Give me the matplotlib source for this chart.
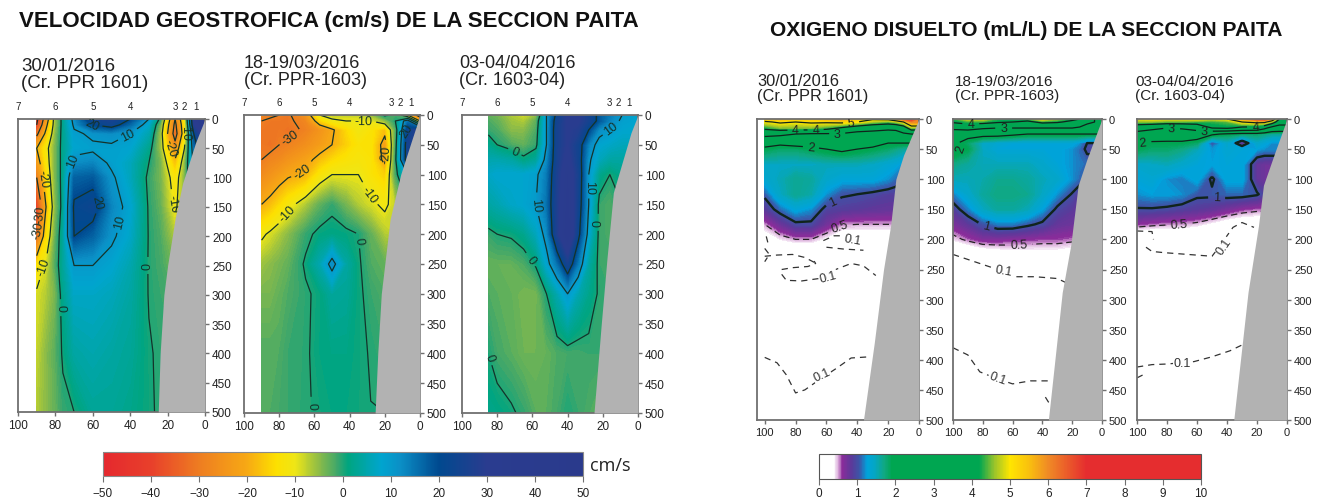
import numpy as np
import matplotlib
matplotlib.use('Agg')
import matplotlib.pyplot as plt
from matplotlib.colors import LinearSegmentedColormap, Normalize
from matplotlib.cm import ScalarMappable

plt.rcParams['font.family'] = ['Liberation Sans', 'DejaVu Sans']

W, H = 1323, 502

# velocity sections, rows = depth, columns = distance to coast
vel_depth = [0, 10, 25, 50, 75, 100, 150, 200, 250, 300, 400, 500]
vel1_x = [90, 85, 80, 76, 70, 60, 50, 40, 30, 24, 16, 11, 6, 0]
vel2_x = [90, 85, 80, 75, 65, 57, 50, 42, 35, 28, 20, 14, 7, 0]
vel3_x = [85, 80, 72, 65, 58, 52, 46, 40, 34, 28, 22, 16, 9, 0]

vel1 = [
    [-42, -25, -6, 2, 12, 24, 26, 20, 10, -1, -30, -12, 30, 45],
    [-40, -22, -6, 2, 11, 20, 23, 16, 7, -4, -32, -14, 28, 40],
    [-32, -18, -5, 2, 9, 11, 12, 10, 5, -6, -34, -15, 20, 35],
    [-20, -12, -4, 2, 8, 9, 9, 8, 2, -6, -26, -10, 15, 30],
    [-24, -13, -4, 2, 12, 13, 9, 6, 0, -4, -18, -6, 12, 20],
    [-30, -15, -4, 2, 17, 18, 11, 6, -1, -4, -13, -5, 10, 10],
    [-40, -20, -5, 2, 21, 23, 13, 8, -0.5, -3, -11, -6, 5, 5],
    [-32, -15, -3, 3, 20, 17, 11, 7, -0.3, -2, -7, -6, 0, 0],
    [-14, -9, -2, 3, 10, 10, 8, 5, -0.3, -1.5, -4, -4, 0, 0],
    [-9, -7, -4, 2, 7, 7, 6, 4, -0.2, -1, -2, -2, 0, 0],
    [-8, -5, -2.5, 0.5, 4, 5, 4, 3, 0.3, -0.5, -1, -1, 0, 0],
    [-7, -5, -3, -1, 0, 3, 3, 2, 0.5, -0.5, -1, -1, 0, 0],
]
vel2 = [
    [-28, -29, -30, -31, -25, -10, -8, -8, -8, -6, 1, -2, -20, -35],
    [-30, -31, -31, -31, -28, -16, -11, -10, -10, -10, -6, 0, 15, -20],
    [-31, -31, -31, -32, -29, -25, -21, -15, -11, -13, -18, -3, 22, 30],
    [-31, -32, -30, -29, -26, -23, -20, -16, -13, -13, -23, -2, 25, 30],
    [-30, -28, -27, -25, -22, -18, -15, -13, -12, -13, -22, -1, 25, 20],
    [-27, -25, -23, -21, -19, -13, -10, -10, -10, -13, -16, -2, 10, 10],
    [-20, -18, -15, -12, -7, -3, -1, -4, -7, -9, -11, -8, 0, 0],
    [-11, -9, -7, -5, -1, 1, 1.5, 1, 0, -3, -7, -8, 0, 0],
    [-6, -5, -4, -3, 0.5, 5, 12, 4, 0.5, -2, -3, 0, 0, 0],
    [-4, -4, -3, -2, -0.5, 0.8, 3.5, 3, 0.6, -1, -2, 0, 0, 0],
    [-2, -2, -2, -1, -0.4, 1, 1.5, 1.5, 0.6, -0.2, -1, 0, 0, 0],
    [-2, -2, -1.5, -1, -0.3, 0.4, 1, 1, 0.5, 0.05, 0, 0, 0, 0],
]
vel3 = [
    [-3, -4, -7, -9, -6, 10, 22, 30, 30, 25, 18, 14, 10, 8],
    [-2, -3, -6, -7, -3, 10, 24, 30, 30, 25, 18, 13, 9, 8],
    [-1, -2, -5, -5, -2, 10, 25, 30, 28, 20, 12, 10, 8, 8],
    [2, 0, -2, -3, -1, 10, 25, 30, 24, 13, 8, 7, 6, 6],
    [5, 5, 4, 1, 3, 12, 25, 32, 24, 11, 6, 4, 4, 4],
    [7, 8, 8, 8, 9, 14, 26, 35, 25, 10, 2, 0, 2, 2],
    [4, 5, 7, 8, 10, 15, 27, 36, 24, 10, -1, -2, 0, 0],
    [-1, 0, 0.5, 2, 6, 12, 27, 38, 22, 8, -1, -2, 0, 0],
    [-3, -3, -3, -2, 0.5, 8, 15, 25, 14, 4, -1, -1, 0, 0],
    [-2, -2.5, -3, -4, -4, 0, 5, 10, 5, 2, -0.5, -1, 0, 0],
    [0, -1.5, -2.5, -3.5, -3.5, -3, -2, -1.5, -1.5, -1, -1, -1, 0, 0],
    [2, 1.5, 0.5, -0.8, -2.5, -2.5, -1.5, 0, -1, -2, -3, -3, 0, 0],
]

# shelf profile of each velocity panel
vel1_bx = [0, 5, 8, 12, 16, 20, 22, 24, 25]
vel1_bd = [0, 40, 70, 110, 170, 250, 300, 400, 500]
vel2_bx = [0, 5, 11, 17, 20, 22, 24, 25.5]
vel2_bd = [0, 45, 100, 175, 250, 300, 400, 500]
vel3_bx = [0, 4, 9, 14, 17.6, 21, 25]
vel3_bd = [0, 30, 80, 130, 240, 355, 500]

station_x = [100, 80, 60, 40, 16, 11, 5]
station_names = ['7', '6', '5', '4', '3', '2', '1']

vel1_labels = [(62, 15), (42, 22), (72, 70), (60, 145), (45, 175), (30, 250), (78, 322),
               (85, 100), (90, 160), (88, 190), (84, 255), (20, 50), (21, 145), (11, 20)]
vel2_labels = [(72, 45), (65, 105), (74, 170), (32, 20), (25, 125), (20, 65), (36, 210), (61, 487), (8, 25)]
vel3_labels = [(70, 62), (58, 150), (29, 120), (25, 180), (60, 240), (75, 395), (17, 15)]

# oxygen sections
ox_depth = [0, 5, 15, 25, 40, 50, 75, 100, 125, 150, 175, 200, 225, 500]
ox_x = [100, 90, 80, 70, 60, 50, 40, 30, 20, 15, 10, 5, 0]

ox1 = [
    [5.4, 5.5, 5.3, 5.3, 5.6, 5.8, 5.4, 5.1, 5.2, 5.6, 6.5, 7.0, 6.0],
    [4.9, 5.1, 5.0, 5.1, 5.1, 5.2, 5.0, 4.6, 4.4, 4.6, 5.0, 6.0, 6.0],
    [4.2, 4.5, 4.5, 4.5, 4.3, 3.9, 3.5, 3.3, 3.2, 3.2, 3.5, 4.5, 4.5],
    [3.3, 3.2, 3.0, 2.9, 2.9, 2.9, 2.7, 2.7, 2.6, 2.7, 2.9, 3.0, 3.0],
    [2.2, 2.1, 2.2, 2.2, 2.3, 2.3, 2.4, 2.2, 2.0, 2.0, 2.0, 2.0, 2.0],
    [1.9, 1.8, 1.8, 1.9, 2.0, 2.1, 2.0, 1.9, 1.8, 1.7, 1.6, 1.6, 1.6],
    [1.45, 1.45, 1.45, 1.45, 1.5, 1.5, 1.5, 1.45, 1.35, 1.3, 1.2, 1.2, 1.2],
    [1.35, 1.5, 1.65, 1.6, 1.4, 1.3, 1.3, 1.3, 1.2, 1.1, 1.0, 1.0, 1.0],
    [1.05, 1.45, 1.65, 1.55, 1.2, 1.03, 1.0, 0.95, 0.9, 0.9, 0.9, 0.9, 0.9],
    [0.85, 1.1, 1.3, 1.2, 0.92, 0.88, 0.85, 0.82, 0.8, 0.8, 0.8, 0.8, 0.8],
    [0.5, 0.75, 0.95, 0.95, 0.72, 0.52, 0.5, 0.5, 0.5, 0.5, 0.5, 0.5, 0.5],
    [0.25, 0.4, 0.5, 0.5, 0.35, 0.2, 0.2, 0.2, 0.2, 0.2, 0.2, 0.2, 0.2],
    [0.05, 0.05, 0.05, 0.05, 0.05, 0.05, 0.05, 0.05, 0.05, 0.05, 0.05, 0.05, 0.05],
    [0.05, 0.05, 0.05, 0.05, 0.05, 0.05, 0.05, 0.05, 0.05, 0.05, 0.05, 0.05, 0.05],
]
ox2 = [
    [4.3, 4.8, 4.8, 4.3, 4.2, 4.4, 5.0, 4.6, 4.2, 4.0, 3.5, 3.0, 3.0],
    [4.1, 4.3, 4.3, 4.1, 4.0, 3.8, 4.2, 4.1, 3.8, 3.5, 3.1, 3.0, 3.0],
    [3.2, 3.4, 3.1, 3.0, 3.0, 3.0, 3.0, 3.0, 3.0, 2.9, 2.8, 2.8, 2.8],
    [2.4, 2.2, 2.2, 2.2, 2.1, 2.0, 2.0, 2.0, 2.0, 2.0, 2.0, 2.0, 2.0],
    [2.1, 1.8, 1.45, 1.35, 1.3, 1.3, 1.3, 1.3, 1.3, 1.2, 1.0, 1.0, 1.0],
    [2.1, 1.9, 1.45, 1.3, 1.3, 1.3, 1.3, 1.3, 1.2, 1.1, 0.95, 0.95, 0.95],
    [1.7, 1.6, 1.5, 1.5, 1.5, 1.5, 1.4, 1.3, 1.2, 1.15, 1.1, 1.1, 1.1],
    [1.5, 1.5, 1.55, 1.65, 1.65, 1.6, 1.5, 1.4, 1.2, 1.1, 1.0, 1.0, 1.0],
    [1.15, 1.4, 1.6, 1.7, 1.7, 1.65, 1.45, 1.2, 0.98, 0.85, 0.8, 0.8, 0.8],
    [0.88, 1.15, 1.45, 1.6, 1.6, 1.5, 1.25, 0.95, 0.85, 0.8, 0.8, 0.8, 0.8],
    [0.68, 0.82, 1.02, 1.15, 1.15, 1.05, 0.95, 0.8, 0.75, 0.7, 0.7, 0.7, 0.7],
    [0.42, 0.55, 0.65, 0.65, 0.62, 0.6, 0.58, 0.58, 0.55, 0.5, 0.5, 0.5, 0.5],
    [0.05, 0.1, 0.2, 0.25, 0.3, 0.3, 0.3, 0.3, 0.25, 0.2, 0.2, 0.2, 0.2],
    [0.05, 0.05, 0.05, 0.05, 0.05, 0.05, 0.05, 0.05, 0.05, 0.05, 0.05, 0.05, 0.05],
]
ox3 = [
    [4.9, 5.0, 4.9, 4.9, 5.0, 4.8, 5.0, 5.8, 6.8, 7.0, 5.8, 4.0, 4.0],
    [4.5, 4.5, 4.4, 4.4, 4.3, 4.3, 4.4, 5.0, 5.2, 5.2, 4.5, 3.5, 3.5],
    [3.4, 3.2, 3.0, 3.1, 3.5, 4.0, 4.1, 3.8, 3.7, 3.2, 2.6, 2.5, 2.5],
    [2.7, 2.5, 2.4, 2.4, 2.3, 2.1, 1.9, 1.8, 1.8, 1.7, 1.6, 1.6, 1.6],
    [2.0, 1.9, 1.9, 1.9, 1.8, 1.0, 1.4, 0.7, 1.4, 1.3, 1.2, 1.2, 1.2],
    [1.9, 1.8, 1.8, 1.7, 1.5, 1.2, 1.35, 1.3, 1.25, 1.2, 1.2, 1.2, 1.2],
    [1.4, 1.45, 1.5, 1.4, 1.3, 1.25, 1.3, 1.3, 0.8, 0.75, 0.75, 0.75, 0.75],
    [1.3, 1.35, 1.2, 1.15, 1.3, 0.95, 1.3, 1.3, 0.8, 0.75, 0.75, 0.75, 0.75],
    [1.2, 1.25, 1.25, 1.2, 1.05, 1.05, 1.1, 1.1, 1.03, 0.9, 0.9, 0.9, 0.9],
    [0.98, 0.98, 0.95, 0.9, 0.85, 0.8, 0.7, 0.6, 0.55, 0.55, 0.55, 0.55, 0.55],
    [0.6, 0.55, 0.52, 0.5, 0.45, 0.35, 0.25, 0.2, 0.2, 0.2, 0.2, 0.2, 0.2],
    [0.05, 0.05, 0.05, 0.05, 0.05, 0.05, 0.05, 0.05, 0.05, 0.05, 0.05, 0.05, 0.05],
    [0.05, 0.05, 0.05, 0.05, 0.05, 0.05, 0.05, 0.05, 0.05, 0.05, 0.05, 0.05, 0.05],
    [0.05, 0.05, 0.05, 0.05, 0.05, 0.05, 0.05, 0.05, 0.05, 0.05, 0.05, 0.05, 0.05],
]

ox1_bx = [0, 10, 15, 18.4, 23, 29, 36]
ox1_bd = [0, 60, 100, 177, 250, 372, 500]
ox2_bx = [0, 10, 16, 21, 26.7, 36]
ox2_bd = [0, 66, 110, 210, 288, 500]
ox3_bx = [0, 8, 15.7, 19, 26, 35.5]
ox3_bd = [0, 55, 110, 177, 288, 500]

# the 0.1 isolines, traced as (x, depth)
ox1_lines = [
    ([100, 92, 82, 74, 68], [228, 226, 225, 230, 238]),
    ([89, 82, 72, 67, 68], [250, 247, 245, 240, 236]),
    ([89, 86, 76, 62, 54, 44, 36, 28], [258, 268, 269, 264, 250, 240, 244, 260]),
    ([62, 55, 50], [202, 194, 194]),
    ([60, 49, 36], [213, 216, 218]),
    ([100, 92, 86, 80, 74, 64, 54, 44, 32], [396, 405, 425, 455, 450, 432, 415, 397, 395]),
    ([99, 98], [195, 205]),
    ([100, 97, 100], [215, 225, 237]),
]
ox2_lines = [
    ([100, 88, 76, 70, 60, 45, 30, 24], [225, 235, 245, 250, 262, 262, 265, 272]),
    ([100, 90, 82, 72, 60, 48, 36], [380, 392, 420, 430, 440, 435, 435]),
    ([38, 36, 33], [462, 470, 475]),
]
ox3_lines = [
    ([100, 90, 89], [186, 187, 200]),
    ([94, 90, 82, 66, 50, 46, 36, 30, 22], [213, 220, 222, 225, 228, 215, 180, 172, 180]),
    ([100, 90, 80, 62, 50, 38, 28], [412, 408, 407, 403, 395, 385, 373]),
    ([100, 96], [430, 425]),
]
ox1_label_01 = [(43, 201, '0.1', -10), (59, 262, '0.1', 15), (63, 425, '0.1', 25)]
ox2_label_01 = [(66, 252, '0.1', -10), (70, 430, '0.1', -20)]
ox3_label_01 = [(42, 212, '0.1', 55), (70, 405, '0.1', 0)]

ox1_labels = [(80, 20), (67, 20), (53, 23), (70, 45), (57, 130), (44, 6)]
ox2_labels = [(88, 12), (66, 15), (90, 67), (78, 180)]
ox3_labels = [(77, 20), (55, 16), (96, 40), (47, 135), (21, 10)]
ox1_labels_05 = [(52, 176)]
ox2_labels_05 = [(56, 207)]
ox3_labels_05 = [(72, 172)]

# colour scales
vel_stops = [(-50, '#e5282e'), (-40, '#e8402b'), (-30, '#ee7d21'), (-20, '#f7a914'), (-14, '#fde000'),
             (-10, '#efe616'), (-5, '#8cbb48'), (-1, '#3aa66c'), (1, '#00a57f'), (8, '#00a5cf'),
             (12, '#0b8fc6'), (20, '#00498f'), (30, '#2a3c8f'), (50, '#2a3a8c')]
ox_stops = [(0, '#ffffff'), (0.38, '#ffffff'), (0.5, '#d8a6d8'), (0.6, '#8a2c9a'), (0.85, '#5a3a9a'),
            (1.05, '#3b56a8'), (1.25, '#00a3dc'), (1.45, '#04a6c4'), (1.7, '#10a882'), (1.9, '#00a651'),
            (4.2, '#00a651'), (4.6, '#9cc42a'), (5, '#ffe600'), (5.5, '#f9c00e'), (6, '#f08a25'),
            (7, '#e52d2f'), (10, '#e52d2f')]


def make_cmap(stops):
    lo, hi = stops[0][0], stops[-1][0]
    return LinearSegmentedColormap.from_list('c', [((v - lo) / (hi - lo), c) for v, c in stops], N=512)


vel_cmap = make_cmap(vel_stops)
ox_cmap = make_cmap(ox_stops)
frame = '#707070'
line = '#15332a'
txt = '#222222'

fig = plt.figure(figsize=(W / 100, H / 100), dpi=100)


def axes_px(x0, x1, y0, y1):
    return fig.add_axes([x0 / W, 1 - y1 / H, (x1 - x0) / W, (y1 - y0) / H])


def style(ax, xlim, size):
    ax.set_xlim(xlim, 0)
    ax.set_ylim(500, 0)
    ax.set_xticks([100, 80, 60, 40, 20, 0])
    ax.set_yticks(range(0, 501, 50))
    ax.yaxis.tick_right()
    ax.tick_params(colors=frame, labelcolor=txt, labelsize=size, length=3, width=1, pad=2)
    for s in ax.spines.values():
        s.set_color(frame)
        s.set_linewidth(1.3)


def vel_panel(box, x, z, bx, bd, labels):
    ax = axes_px(*box)
    ax.contourf(x, vel_depth, z, levels=np.linspace(-50, 50, 201), cmap=vel_cmap, extend='both')
    cs = ax.contour(x, vel_depth, z, levels=[-40, -30, -20, -10, 0, 10, 20], colors=line, linewidths=0.9,
                    linestyles='solid')
    ax.clabel(cs, manual=labels, fmt='%g', fontsize=9, colors=line, inline=True)
    ax.fill_betweenx(bd, bx, 0, color='#b2b2b2', zorder=5, lw=0)
    style(ax, 100, 8.5)
    for sx, name in zip(station_x, station_names):
        ax.text(sx, -14, name, ha='center', va='bottom', fontsize=7, color=txt)
    return ax


def ox_panel(box, xlim, z, bx, bd, labels, labels05, lines, labels01):
    ax = axes_px(*box)
    ax.contourf(ox_x, ox_depth, z, levels=np.linspace(0, 10, 401), cmap=ox_cmap)
    cs = ax.contour(ox_x, ox_depth, z, levels=[1, 2, 3, 4, 5], colors='#10241c',
                    linewidths=[1.7, 0.9, 0.9, 0.9, 0.9], linestyles='solid')
    ax.clabel(cs, manual=labels, fmt='%g', fontsize=9, colors='#222222', inline=True)
    cs2 = ax.contour(ox_x, ox_depth, z, levels=[0.5], colors='#222222', linewidths=0.9, linestyles=[(0, (5, 3))])
    ax.clabel(cs2, manual=labels05, fmt='%g', fontsize=9, colors='#222222', inline=True)
    for lx, ld in lines:
        ax.plot(lx, ld, color='#333333', lw=0.9, ls=(0, (5, 4)))
    for lx, ld, s, rot in labels01:
        ax.text(lx, ld, s, fontsize=9, rotation=rot, ha='center', va='center', color='#333333',
                bbox=dict(fc='white', ec='none', pad=0.5))
    ax.fill_betweenx(bd, bx, 0, color='#b2b2b2', zorder=5, lw=0)
    style(ax, xlim, 8)
    return ax


vel_panel((18, 205, 120, 413), vel1_x, vel1, vel1_bx, vel1_bd, vel1_labels)
vel_panel((244, 420, 116, 414), vel2_x, vel2, vel2_bx, vel2_bd, vel2_labels)
vel_panel((462, 638, 116, 414), vel3_x, vel3, vel3_bx, vel3_bd, vel3_labels)

ox_panel((757, 919, 120, 421), 105, ox1, ox1_bx, ox1_bd, ox1_labels, ox1_labels_05, ox1_lines, ox1_label_01)
ox_panel((953, 1102, 120, 421), 100, ox2, ox2_bx, ox2_bd, ox2_labels, ox2_labels_05, ox2_lines, ox2_label_01)
ox_panel((1137, 1287, 120, 421), 100, ox3, ox3_bx, ox3_bd, ox3_labels, ox3_labels_05, ox3_lines, ox3_label_01)

# colour bars
cax = axes_px(103, 583, 453, 477)
cb = fig.colorbar(ScalarMappable(Normalize(-50, 50), vel_cmap), cax=cax, orientation='horizontal')
cb.set_ticks(range(-50, 51, 10))
cb.ax.tick_params(labelsize=8.5, length=4, color=frame, labelcolor=txt, pad=4)
cb.outline.set_edgecolor('#8a8a8a')

cax2 = axes_px(819, 1201, 455, 480)
cb2 = fig.colorbar(ScalarMappable(Normalize(0, 10), ox_cmap), cax=cax2, orientation='horizontal')
cb2.set_ticks(range(0, 11))
cb2.ax.tick_params(labelsize=8.5, length=4, color=frame, labelcolor=txt, pad=2)
cb2.outline.set_edgecolor('#555555')

fig.text(590 / W, 1 - 466 / H, 'cm/s', fontsize=13, color=txt, va='center', family=['Open Sans', 'DejaVu Sans'])


def px_text(x, y, s, size, **kw):
    fig.text(x / W, 1 - y / H, s, fontsize=size, color=kw.pop('color', txt), va='center', **kw)


px_text(19, 22, 'VELOCIDAD GEOSTROFICA (cm/s) DE LA SECCION PAITA', 16, weight='bold', color='#111111')
px_text(770, 31, 'OXIGENO DISUELTO (mL/L) DE LA SECCION PAITA', 15.1, weight='bold', color='#111111')

px_text(21, 75, '30/01/2016\n(Cr. PPR 1601)', 13.5, linespacing=1.05)
px_text(244, 72, '18-19/03/2016\n(Cr. PPR-1603)', 13, linespacing=1.05)
px_text(459, 72, '03-04/04/2016\n(Cr. 1603-04)', 13, linespacing=1.05)
px_text(757, 89, '30/01/2016\n(Cr. PPR 1601)', 11.8, linespacing=1.05)
px_text(955, 89, '18-19/03/2016\n(Cr. PPR-1603)', 11, linespacing=1.05)
px_text(1135, 89, '03-04/04/2016\n(Cr. 1603-04)', 11, linespacing=1.05)

fig.savefig('out.png', dpi=100)
